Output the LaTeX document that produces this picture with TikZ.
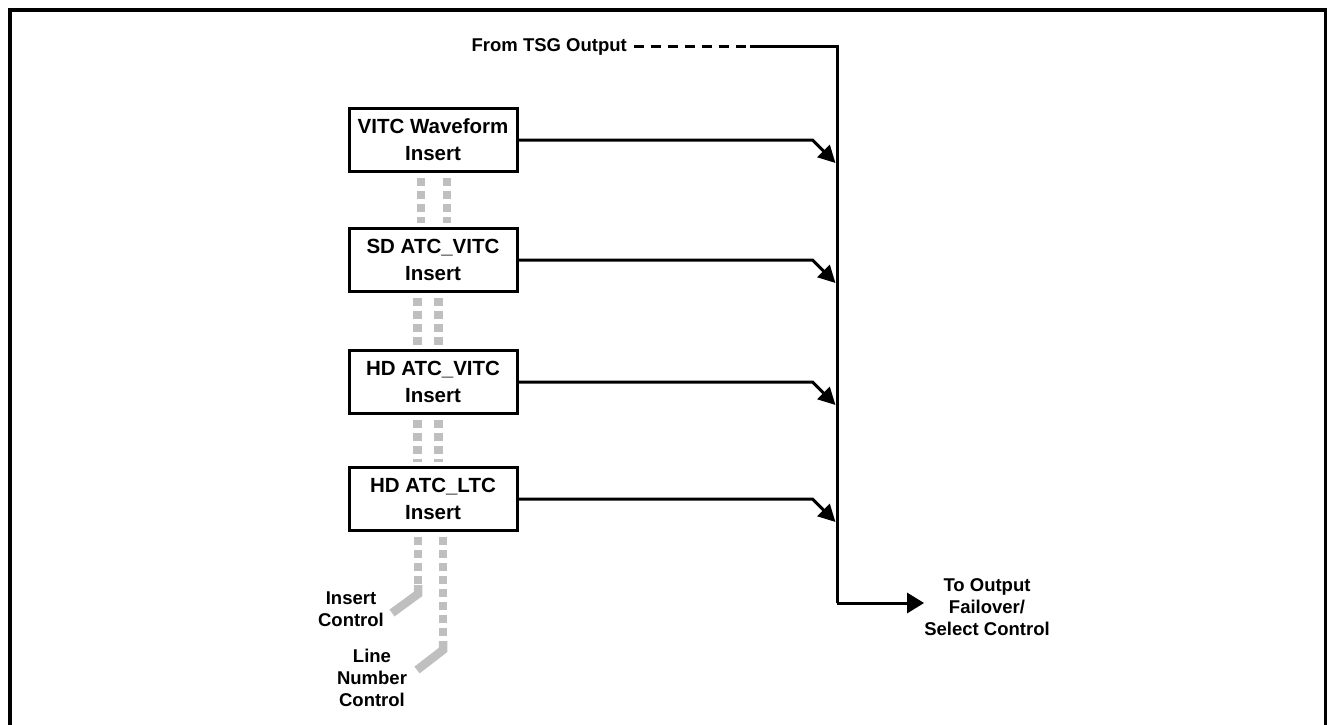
\documentclass[tikz,border=0pt]{standalone}
\usepackage{fontspec}
\setmainfont{Liberation Sans}
\usetikzlibrary{arrows.meta}
\begin{document}
\begin{tikzpicture}[x=1pt,y=-1pt,
  box/.style={draw, line width=3pt, minimum width=168pt, minimum height=63pt, inner sep=0pt, align=center, font=\fontsize{20.5}{27}\selectfont\bfseries},
  lbl/.style={align=center, inner sep=0pt, font=\fontsize{18.5}{22}\selectfont\bfseries},
  feed/.style={line width=3pt, -{Triangle[length=17pt,width=17pt]}},
  outarrow/.style={line width=3pt, -{Triangle[length=17pt,width=20pt]}},
  bus/.style={line width=3pt},
  busdash/.style={line width=3pt, dash pattern=on 10pt off 7pt},
  ctl/.style={draw=black!25, line width=8.5pt, dash pattern=on 8pt off 5pt},
  ctlend/.style={draw=black!25, line width=8.5pt},
  frame/.style={line width=4pt}
  ]
\useasboundingbox (0,0) rectangle (1327,725);
\draw[frame] (10,730) -- (10,10) -- (1326,10) -- (1326,730);

% boxes
\node[box] (b1) at (433,140) {VITC Waveform\\Insert};
\node[box] (b2) at (433,260) {SD ATC\_VITC\\Insert};
\node[box] (b3) at (433,382) {HD ATC\_VITC\\Insert};
\node[box] (b4) at (433,499) {HD ATC\_LTC\\Insert};

% bus
\node[lbl, anchor=base east] (tsg) at (627,52) {From TSG Output};
\coordinate (dashend) at (750,47);
\coordinate (top) at (837,47);
\coordinate (bot) at (837,603);
\node[lbl] (out) at (987,607) {To Output\\Failover/\\Select Control};
\draw[busdash] ([xshift=7pt]tsg.east |- dashend) -- (dashend);
\draw[bus] (dashend) -- (top) -- (bot);
\draw[outarrow] (bot) -- (bot -| out.west);

% feeds into bus
\draw[feed] (b1.east) -- ++(294,0) -- ++(23,23);
\draw[feed] (b2.east) -- ++(294,0) -- ++(23,23);
\draw[feed] (b3.east) -- ++(294,0) -- ++(23,23);
\draw[feed] (b4.east) -- ++(294,0) -- ++(23,23);

% control lines
\draw[ctl] ([xshift=-12pt,yshift=-5pt]b1.south) -- ([xshift=-12pt,yshift=4pt]b2.north);
\draw[ctl] ([xshift=14pt,yshift=-5pt]b1.south) -- ([xshift=14pt,yshift=4pt]b2.north);
\draw[ctl] ([xshift=-15.5pt,yshift=-5pt]b2.south) -- ([xshift=-15.5pt,yshift=4pt]b3.north);
\draw[ctl] ([xshift=5.5pt,yshift=-5pt]b2.south) -- ([xshift=5.5pt,yshift=4pt]b3.north);
\draw[ctl] ([xshift=-15.5pt,yshift=-5pt]b3.south) -- ([xshift=-15.5pt,yshift=4pt]b4.north);
\draw[ctl] ([xshift=5.5pt,yshift=-5pt]b3.south) -- ([xshift=5.5pt,yshift=4pt]b4.north);

\coordinate (c1a) at (418,585);
\coordinate (c1b) at (418,594);
\coordinate (c1c) at (392,613);
\coordinate (c2a) at (443,641);
\coordinate (c2b) at (443,650);
\coordinate (c2c) at (417,670);
\draw[ctl] ([xshift=-15pt,yshift=-5pt]b4.south) -- (c1a);
\draw[ctlend] (c1a) -- (c1b) -- (c1c);
\draw[ctl] ([xshift=10pt,yshift=-5pt]b4.south) -- (c2a);
\draw[ctlend] (c2a) -- (c2b) -- (c2c);

\node[lbl] (ic) at (351,609) {Insert\\Control};
\node[lbl] (lnc) at (372,678) {Line\\Number\\Control};
\end{tikzpicture}
\end{document}
